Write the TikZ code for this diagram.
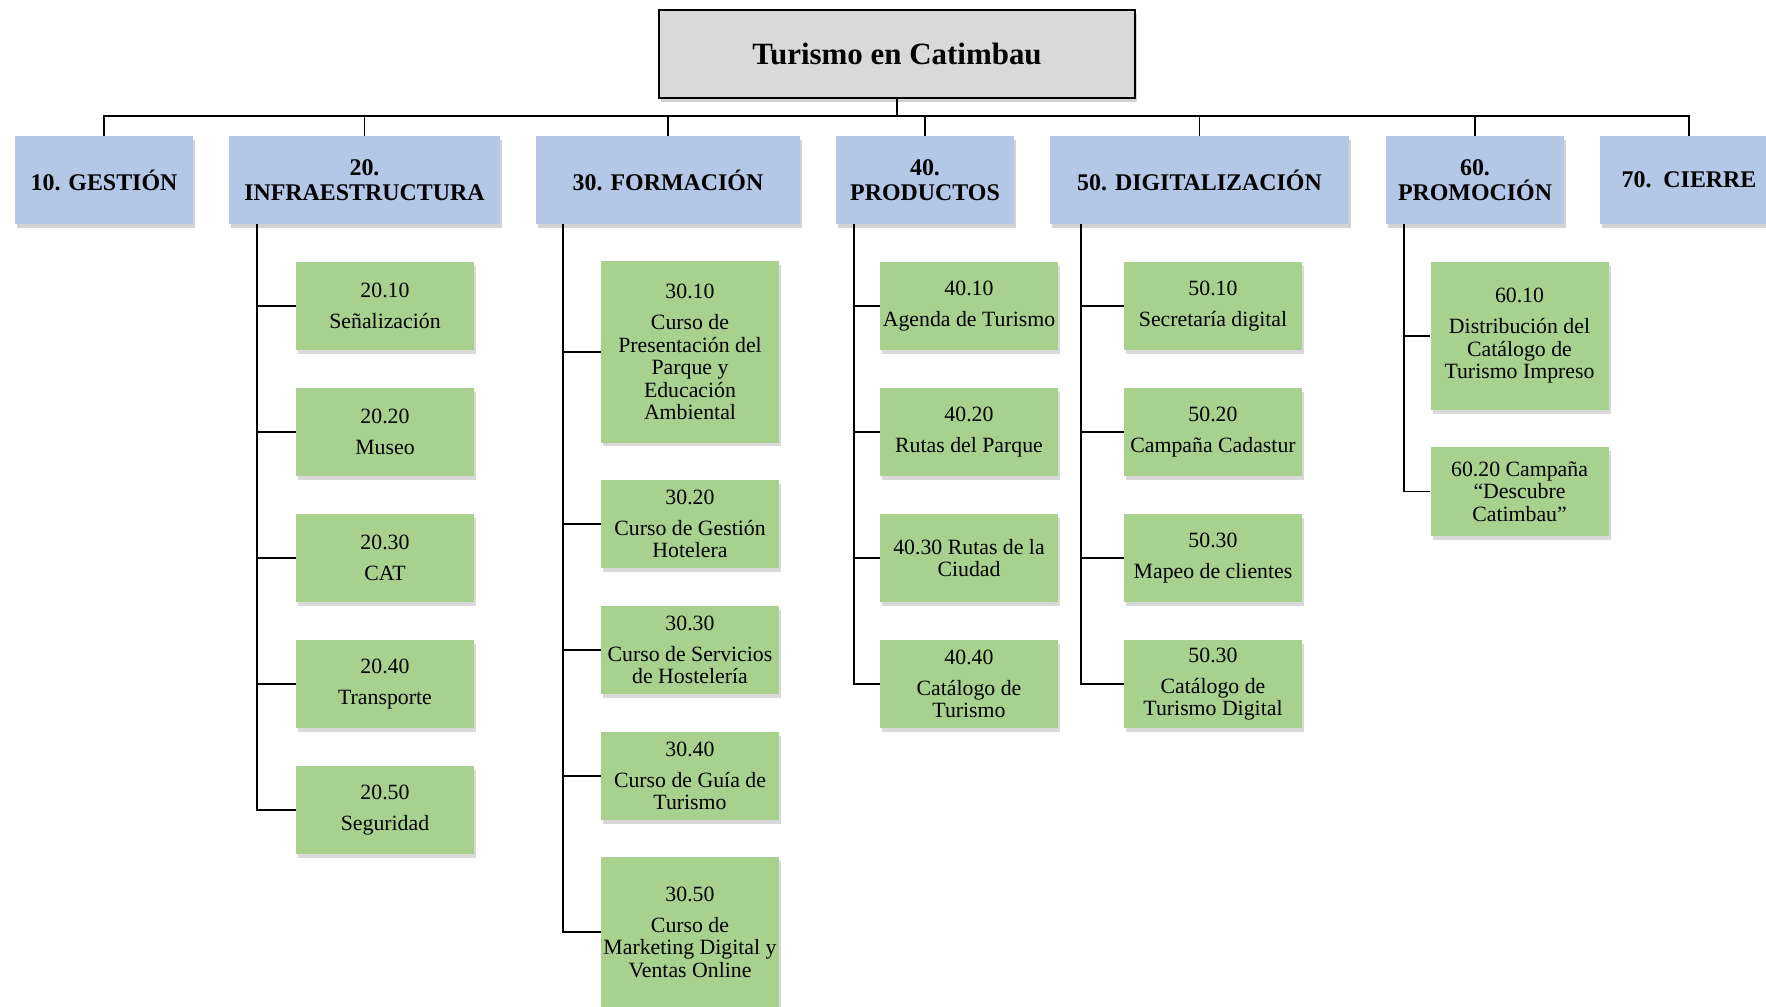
\documentclass[tikz,border=0pt]{standalone}
\usepackage{fontspec}
\setmainfont{Liberation Serif}
\usepackage{xcolor}
\usepackage{tikz}
\usetikzlibrary{shadows,calc}

\definecolor{rootgray}{HTML}{D9D9D9}
\definecolor{phaseblue}{HTML}{B4C7E7}
\definecolor{taskgreen}{HTML}{A9D18E}

\begin{document}
\begin{tikzpicture}[
x=0.025cm, y=-0.025cm,
root/.style={
    draw,
    line width=1.2pt,
    fill=rootgray,
    minimum width=11.9cm,
    minimum height=2.2cm,
    inner sep=0pt,
    font=\fontsize{22}{24}\selectfont\bfseries,
    drop shadow={shadow xshift=1.5pt, shadow yshift=-2.5pt, opacity=0.35}
},
phase/.style={
    fill=phaseblue,
    minimum width=4.45cm,
    minimum height=2.2cm,
    inner sep=0pt,
    align=center,
    font=\fontsize{17}{18}\selectfont\bfseries,
    drop shadow={shadow xshift=1.5pt, shadow yshift=-2.5pt, opacity=0.35}
},
task/.style={
    fill=taskgreen,
    minimum width=4.45cm,
    minimum height=2.2cm,
    inner sep=0pt,
    align=center,
    font=\fontsize{15.5}{16}\selectfont,
    drop shadow={shadow xshift=1.5pt, shadow yshift=-2.5pt, opacity=0.3}
},
conn/.style={
    line width=1.2pt
}
]

\useasboundingbox (0,0) rectangle (1766,1006);
\clip (0,0) rectangle (1766,1006);

\node[root] (root) at (897,54) {Turismo en Catimbau};

\node[phase] (gestion) at (104,180) {10. GESTIÓN};

\node[phase, minimum width=6.775cm] (infra) at (364.5,180)
{20.\\INFRAESTRUCTURA};

\node[phase, minimum width=6.6cm] (formacion) at (668,180)
{30. FORMACIÓN};

\node[phase] (productos) at (925,180)
{40.\\PRODUCTOS};

\node[phase, minimum width=7.475cm] (digital) at (1199.5,180)
{50. DIGITALIZACIÓN};

\node[phase] (promocion) at (1475,180)
{60.\\PROMOCIÓN};

\node[phase] (cierre) at (1689,180) {70.~~CIERRE};

% infraestructura
\node[task] (senal) at (385,306) {20.10\\[6pt]Señalización};
\node[task] (museo) at (385,432) {20.20\\[6pt]Museo};
\node[task] (cat) at (385,558) {20.30\\[6pt]CAT};
\node[task] (transporte) at (385,684) {20.40\\[6pt]Transporte};
\node[task] (seguridad) at (385,810) {20.50\\[6pt]Seguridad};

% formacion
\node[task, minimum height=4.525cm] (cursoparque) at (690,352)
{30.10\\[6pt]Curso de\\Presentación del\\Parque y\\Educación\\Ambiental};
\node[task] (cursohotel) at (690,524)
{30.20\\[6pt]Curso de Gestión\\Hotelera};
\node[task] (cursoserv) at (690,650)
{30.30\\[6pt]Curso de Servicios\\de Hostelería};
\node[task] (cursoguia) at (690,776)
{30.40\\[6pt]Curso de Guía de\\Turismo};
\node[task, minimum height=3.75cm] (cursomkt) at (690,932)
{30.50\\[6pt]Curso de\\Marketing Digital y\\Ventas Online};

% productos
\node[task] (agenda) at (969,306) {40.10\\[6pt]Agenda de Turismo};
\node[task] (rutaspq) at (969,432) {40.20\\[6pt]Rutas del Parque};
\node[task] (rutascd) at (969,558) {40.30 Rutas de la\\Ciudad};
\node[task] (catalogo) at (969,684) {40.40\\[6pt]Catálogo de\\Turismo};

% digitalizacion
\node[task] (secretaria) at (1213,306) {50.10\\[6pt]Secretaría digital};
\node[task] (cadastur) at (1213,432) {50.20\\[6pt]Campaña Cadastur};
\node[task] (mapeo) at (1213,558) {50.30\\[6pt]Mapeo de clientes};
\node[task] (catdigital) at (1213,684) {50.30\\[6pt]Catálogo de\\Turismo Digital};

% promocion
\node[task, minimum height=3.7cm] (distrib) at (1519.5,336)
{60.10\\[6pt]Distribución del\\Catálogo de\\Turismo Impreso};
\node[task, minimum height=2.225cm] (campana) at (1519.5,491.5)
{60.20 Campaña\\“Descubre\\Catimbau”};

% root to phases
\coordinate (bus) at (897,116);
\draw[conn] (root.south) -- (bus);
\draw[conn] (gestion.north) |- (bus);
\draw[conn] (infra.north) |- (bus);
\draw[conn] (formacion.north) |- (bus);
\draw[conn] (productos.north) |- (bus);
\draw[conn] (digital.north) |- (bus);
\draw[conn] (promocion.north) |- (bus);
\draw[conn] (cierre.north) |- (bus);

% phases to tasks
\coordinate (infra trunk) at (257,224);
\draw[conn] (infra trunk) |- (senal.west);
\draw[conn] (infra trunk) |- (museo.west);
\draw[conn] (infra trunk) |- (cat.west);
\draw[conn] (infra trunk) |- (transporte.west);
\draw[conn] (infra trunk) |- (seguridad.west);

\coordinate (formacion trunk) at (563,224);
\draw[conn] (formacion trunk) |- (cursoparque.west);
\draw[conn] (formacion trunk) |- (cursohotel.west);
\draw[conn] (formacion trunk) |- (cursoserv.west);
\draw[conn] (formacion trunk) |- (cursoguia.west);
\draw[conn] (formacion trunk) |- (cursomkt.west);

\coordinate (productos trunk) at (854,224);
\draw[conn] (productos trunk) |- (agenda.west);
\draw[conn] (productos trunk) |- (rutaspq.west);
\draw[conn] (productos trunk) |- (rutascd.west);
\draw[conn] (productos trunk) |- (catalogo.west);

\coordinate (digital trunk) at (1081,224);
\draw[conn] (digital trunk) |- (secretaria.west);
\draw[conn] (digital trunk) |- (cadastur.west);
\draw[conn] (digital trunk) |- (mapeo.west);
\draw[conn] (digital trunk) |- (catdigital.west);

\coordinate (promocion trunk) at (1404,224);
\draw[conn] (promocion trunk) |- (distrib.west);
\draw[conn] (promocion trunk) |- (campana.west);

\end{tikzpicture}
\end{document}
